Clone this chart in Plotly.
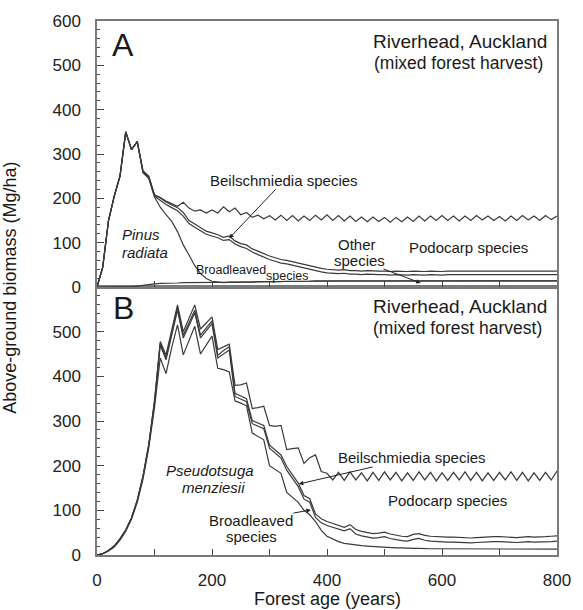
import plotly.graph_objects as go

# Forest age (years), every 10 years
age = list(range(0, 801, 10))

# ---- Panel A (Pinus radiata start) : cumulative (stacked) biomass boundaries, Mg/ha ----
A_other_top = [0, 0, 0, 0, 0, 0, 1, 2, 4, 6,
               7, 8, 8, 9, 9, 10, 10, 10, 10, 10,
               10, 10, 10, 11, 11, 11, 11, 11, 12, 12,
               12, 12, 12, 13, 13, 13, 13, 13, 14, 14,
               14, 14, 14, 14, 14, 14, 14, 14, 14, 14,
               14, 14, 14, 14, 14, 14, 14, 14, 14, 14,
               14, 14, 14, 14, 14, 14, 14, 14, 14, 14,
               14, 14, 14, 14, 14, 14, 14, 14, 14, 14,
               14]
A_pinus_top = [0, 45, 150, 205, 250, 350, 310, 328, 258, 245,
               203, 180, 163, 148, 125, 95, 72, 48, 30, 19,
               13, 11, 10, 11, 11, 11, 11, 11, 12, 12,
               12, 12, 12, 13, 13, 13, 13, 13, 14, 14,
               14, 14, 14, 14, 14, 14, 14, 14, 14, 14,
               14, 14, 14, 14, 14, 14, 14, 14, 14, 14,
               14, 14, 14, 14, 14, 14, 14, 14, 14, 14,
               14, 14, 14, 14, 14, 14, 14, 14, 14, 14,
               14]
A_broadleaved_top = [0, 45, 150, 205, 250, 350, 310, 328, 259, 246,
                     205, 195, 186, 179, 172, 160, 143, 135, 126, 119,
                     115, 111, 105, 107, 97, 91, 87, 79, 73, 67,
                     62, 58, 54, 52, 49, 45, 42, 39, 36, 34,
                     32, 31, 30, 31, 29, 29, 28, 29, 28, 28,
                     28, 27, 28, 27, 27, 28, 27, 27, 28, 27,
                     27, 28, 28, 27, 27, 28, 27, 28, 28, 27,
                     28, 28, 27, 28, 28, 27, 28, 28, 28, 27,
                     28]
A_beilschmiedia_top = [0, 45, 150, 205, 250, 350, 310, 328, 261, 249,
                       207, 201, 192, 185, 179, 168, 150, 142, 133, 126,
                       122, 118, 112, 115, 104, 98, 95, 86, 81, 75,
                       70, 66, 62, 60, 57, 53, 50, 47, 44, 42,
                       40, 39, 38, 39, 37, 37, 36, 37, 36, 36,
                       36, 35, 36, 35, 35, 36, 35, 35, 36, 35,
                       35, 36, 36, 35, 35, 36, 35, 36, 36, 35,
                       36, 36, 35, 36, 36, 35, 36, 36, 36, 35,
                       36]
A_podocarp_top = [0, 45, 150, 205, 250, 350, 310, 328, 262, 250,
                  208, 202, 194, 188, 182, 191, 178, 171, 174, 167,
                  174, 167, 181, 170, 178, 163, 168, 157, 162, 154,
                  161, 151, 162, 150, 161, 149, 160, 150, 162, 151,
                  163, 150, 161, 149, 160, 148, 158, 147, 158, 148,
                  157, 146, 157, 147, 158, 148, 160, 149, 160, 150,
                  161, 150, 160, 149, 160, 150, 161, 151, 160, 150,
                  159, 149, 160, 150, 161, 151, 160, 150, 161, 152,
                  160]

# ---- Panel B (Pseudotsuga menziesii start) ----
B_pseudotsuga_top = [0, 3, 9, 18, 33, 53, 80, 118, 170, 240,
                     330, 441, 406, 465, 515, 448, 480, 512, 450, 470,
                     490, 418, 415, 410, 345, 340, 334, 273, 266, 258,
                     200, 192, 183, 140, 128, 118, 100, 90, 75, 55,
                     42, 36, 30, 26, 24, 22, 21, 20, 19, 18,
                     17, 17, 16, 16, 15, 15, 15, 14, 14, 14,
                     14, 14, 14, 14, 14, 13, 13, 13, 13, 13,
                     13, 13, 13, 13, 13, 13, 13, 13, 13, 13,
                     13]
B_broadleaved_top = [0, 3, 10, 20, 36, 56, 83, 122, 176, 246,
                     340, 470, 437, 493, 548, 486, 514, 542, 486, 502,
                     518, 441, 451, 459, 355, 349, 343, 294, 289, 283,
                     239, 227, 217, 190, 172, 153, 125, 118, 84, 72,
                     66, 62, 57, 54, 59, 47, 43, 40, 38, 39,
                     41, 37, 34, 32, 31, 35, 37, 33, 31, 30,
                     30, 29, 29, 28, 27, 27, 28, 29, 29, 30,
                     30, 29, 29, 28, 29, 30, 29, 29, 30, 30,
                     31]
B_beilschmiedia_top = [0, 3, 10, 20, 36, 56, 83, 122, 176, 246,
                       343, 474, 442, 498, 553, 492, 520, 548, 492, 508,
                       524, 447, 458, 466, 362, 356, 350, 301, 296, 290,
                       246, 234, 224, 198, 180, 161, 133, 126, 92, 81,
                       75, 71, 66, 62, 68, 57, 53, 50, 48, 49,
                       51, 47, 44, 42, 41, 46, 48, 44, 42, 41,
                       41, 40, 40, 39, 38, 38, 39, 40, 40, 41,
                       41, 40, 40, 39, 40, 41, 40, 40, 41, 42,
                       43]
B_podocarp_top = [0, 3, 10, 20, 36, 56, 83, 122, 176, 247,
                  345, 478, 448, 504, 560, 500, 530, 560, 506, 520,
                  533, 460, 466, 472, 380, 381, 385, 328, 330, 333,
                  290, 288, 290, 236, 238, 240, 205, 218, 224, 187,
                  183, 168, 185, 167, 186, 168, 184, 166, 185, 167,
                  186, 168, 185, 166, 184, 167, 186, 168, 185, 166,
                  184, 167, 185, 168, 186, 167, 185, 166, 184, 167,
                  185, 168, 186, 167, 185, 166, 184, 167, 185, 168,
                  188]

x_ticks = [0, 200, 400, 600, 800]
yA_ticks = [0, 100, 200, 300, 400, 500, 600]
yB_ticks = [0, 100, 200, 300, 400, 500]

LINE = "#3a3a3a"
FRAME = "#7a7a7a"
FONT = "Arial, Liberation Sans, Helvetica, sans-serif"

fig = go.Figure()
for ys, nm in [(A_other_top, "Other species"), (A_pinus_top, "Pinus radiata"),
               (A_broadleaved_top, "Broadleaved species"),
               (A_beilschmiedia_top, "Beilschmiedia species"),
               (A_podocarp_top, "Podocarp species")]:
    fig.add_trace(go.Scatter(x=age, y=ys, mode="lines", name=nm, xaxis="x2", yaxis="y2",
                             line=dict(color=LINE, width=1.2), showlegend=False))
for ys, nm in [(B_pseudotsuga_top, "Pseudotsuga menziesii"),
               (B_broadleaved_top, "Broadleaved species"),
               (B_beilschmiedia_top, "Beilschmiedia species"),
               (B_podocarp_top, "Podocarp species")]:
    fig.add_trace(go.Scatter(x=age, y=ys, mode="lines", name=nm, xaxis="x", yaxis="y",
                             line=dict(color=LINE, width=1.2), showlegend=False))

split = (555 - 286) / 536.0

axis_common = dict(showgrid=False, zeroline=False, showline=True, linecolor=FRAME,
                   linewidth=1.5, mirror=True, ticks="inside", tickcolor="#444",
                   tickfont=dict(family=FONT, size=17, color="#222"))

fig.update_layout(
    width=583, height=610,
    margin=dict(l=97, r=17, t=19, b=55),
    paper_bgcolor="white", plot_bgcolor="white",
    font=dict(family=FONT, color="#1a1a1a"),
    xaxis=dict(domain=[0, 1], anchor="y", range=[0, 800], tickvals=x_ticks,
               ticklen=6, ticklabelstandoff=9,
               minor=dict(tickmode="linear", tick0=0, dtick=100, ticks="inside", ticklen=6, tickcolor="#444"),
               **axis_common),
    yaxis=dict(domain=[0, split], anchor="x", range=[0, 600], tickvals=yB_ticks,
               ticklen=7, ticklabelstandoff=11,
               minor=dict(tickmode="linear", tick0=0, dtick=20, ticks="inside", ticklen=3, tickcolor="#444"),
               **axis_common),
    xaxis2=dict(domain=[0, 1], anchor="y2", range=[0, 800], matches="x", tickvals=x_ticks,
                showticklabels=False, ticklen=6,
                minor=dict(tickmode="linear", tick0=0, dtick=100, ticks="inside", ticklen=6, tickcolor="#444"),
                **axis_common),
    yaxis2=dict(domain=[split, 1], anchor="x2", range=[0, 600], tickvals=yA_ticks,
                ticklen=7, ticklabelstandoff=11,
                minor=dict(tickmode="linear", tick0=0, dtick=20, ticks="inside", ticklen=3, tickcolor="#444"),
                **axis_common),
)

ann = []
def txt(text, x, y, xr, yr, size=15, xanchor="center", italic=False, **kw):
    t = "<i>%s</i>" % text if italic else text
    d = dict(text=t, x=x, y=y, xref=xr, yref=yr, showarrow=False, xanchor=xanchor,
             yanchor="middle", borderpad=0, font=dict(family=FONT, size=size, color="#1a1a1a"))
    d.update(kw)
    ann.append(d)

def arr(text, x, y, ax, ay, xr, yr, size=15):
    ann.append(dict(text=text, x=x, y=y, xref=xr, yref=yr, showarrow=True, ax=ax, ay=ay,
                    arrowhead=2, arrowsize=0.9, arrowwidth=1, arrowcolor="#222", standoff=0,
                    borderpad=0, font=dict(family=FONT, size=size, color="#1a1a1a")))

# Panel A
txt("A", 46, 545, "x2", "y2", size=32)
txt("Riverhead, Auckland", 785, 553, "x2", "y2", size=19, xanchor="right")
txt("(mixed forest harvest)", 777, 506, "x2", "y2", size=17.5, xanchor="right")
arr("Beilschmiedia species", 230, 110, 55, -58, "x2", "y2")
txt("Pinus", 42.6, 118, "x2", "y2", xanchor="left", italic=True)
txt("radiata", 42.6, 78, "x2", "y2", xanchor="left", italic=True)
txt("Broadleaved", 233, 38, "x2", "y2", size=12.5)
txt("species", 331, 25, "x2", "y2", size=12.5)
txt("Other", 453, 96, "x2", "y2")
arr("species", 563, 9, -61, -23, "x2", "y2")
txt("Podocarp species", 646, 89, "x2", "y2")

# Panel B
txt("B", 46, 554, "x", "y", size=32)
txt("Riverhead, Auckland", 785, 556, "x", "y", size=19, xanchor="right")
txt("(mixed forest harvest)", 775, 509, "x", "y", size=17.5, xanchor="right")
arr("Beilschmiedia species", 351, 159, 113, -26, "x", "y")
txt("Podocarp species", 609, 122, "x", "y")
txt("Pseudotsuga", 197, 190, "x", "y", italic=True)
txt("menziesii", 202, 151, "x", "y", italic=True)
arr("Broadleaved", 372, 101, -60, 11, "x", "y")
txt("species", 268, 41, "x", "y")

# Axis titles
txt("Above-ground biomass (Mg/ha)", (8 - 97) / 469.0, 0.5, "paper", "paper", size=18, textangle=-90)
txt("Forest age (years)", 0.5, (555 - 599) / 536.0, "paper", "paper", size=18)

fig.update_layout(annotations=ann)
fig.write_html("out.html")
